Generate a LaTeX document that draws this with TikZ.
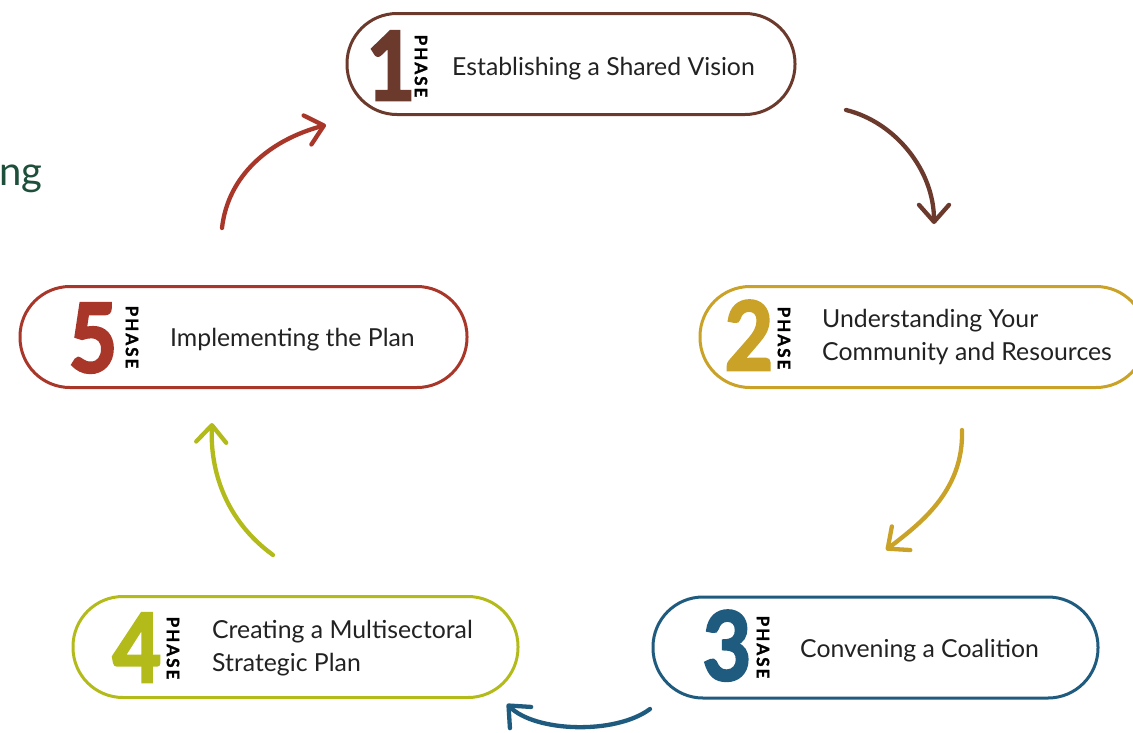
\documentclass[tikz,border=0pt]{standalone}
\usepackage{fontspec}
\setmainfont{Lato}
\newfontfamily\phasefont[LetterSpace=12,BoldFeatures={FakeBold=1.5}]{Lato}
\newfontfamily\digitfont[BoldFeatures={FakeBold=3}]{Lato}
\usetikzlibrary{arrows.meta}
\definecolor{cbrown}{HTML}{6B3A2C}
\definecolor{cgold}{HTML}{C9A227}
\definecolor{cblue}{HTML}{1F5B7E}
\definecolor{clime}{HTML}{B3BB1B}
\definecolor{cred}{HTML}{A8372A}
\definecolor{cgreen}{HTML}{1D4F3B}
\definecolor{ctxt}{HTML}{222222}
\begin{document}
\begin{tikzpicture}[x=1pt,y=-1pt,
  phasebox/.style={draw, line width=3pt, rounded corners=50pt, minimum width=446pt, minimum height=101pt, fill=white, inner sep=0pt},
  digit/.style={font=\digitfont\bfseries\fontsize{95}{95}\selectfont, inner sep=0pt, anchor=base},
  phaselbl/.style={font=\phasefont\bfseries\fontsize{17}{17}\selectfont, rotate=-90, inner sep=0pt, text=black},
  steptext/.style={font=\fontsize{24.8}{33}\selectfont, anchor=base west, align=left, inner sep=0pt, text=ctxt},
  arr/.style={line width=4.3pt, line cap=round, -{Straight Barb[length=17pt,width=30pt,round]}}
]
\useasboundingbox[fill=white] (0,0) rectangle (1133,732);

\node[anchor=base east, text=cgreen, font=\fontsize{40}{40}\selectfont, inner sep=0pt] (title) at (43,185) {ng};

% Phase 1
\node[phasebox, draw=cbrown, minimum width=448pt] (p1) at (571,64) {};
\node[digit, text=cbrown] (d1) at (391,100) {\scalebox{0.88}[1]{1}};
\node[phaselbl] (h1) at (421,66) {PHASE};
\node[steptext] (t1) at (452,75) {Establishing a Shared Vision};

% Phase 2
\node[phasebox, draw=cgold] (p2) at (923,337) {};
\node[digit, text=cgold] (d2) at (749,370) {\scalebox{0.88}[1]{2}};
\node[phaselbl] (h2) at (784,338) {PHASE};
\node[steptext, anchor=west] (t2) at (822,337) {Understanding Your\\Community and Resources};

% Phase 3
\node[phasebox, draw=cblue, minimum width=445pt] (p3) at (875.5,647.5) {};
\node[digit, text=cblue] (d3) at (727,680) {\scalebox{0.88}[1]{3}};
\node[phaselbl] (h3) at (763,647) {PHASE};
\node[steptext] (t3) at (800,657) {Convening a Coalition};

% Phase 4
\node[phasebox, draw=clime, minimum width=445pt] (p4) at (295.5,647) {};
\node[digit, text=clime] (d4) at (137,682) {\scalebox{0.88}[1]{4}};
\node[phaselbl] (h4) at (173,648) {PHASE};
\node[steptext, anchor=west] (t4) at (212,648) {Creating a Multisectoral\\Strategic Plan};

% Phase 5
\node[phasebox, draw=cred, minimum width=447pt] (p5) at (243.5,337) {};
\node[digit, text=cred] (d5) at (93,372) {\scalebox{0.88}[1]{5}};
\node[phaselbl] (h5) at (132,337) {PHASE};
\node[steptext] (t5) at (170,346) {Implementing the Plan};

% arrows
\coordinate (a1s) at (846,110); \coordinate (a1e) at (934,224);
\coordinate (a2s) at (962,430); \coordinate (a2e) at (886,550);
\coordinate (a3s) at (650,709); \coordinate (a3e) at (507,704);
\coordinate (a4s) at (273,555); \coordinate (a4e) at (212,423);
\coordinate (a5s) at (222,228); \coordinate (a5e) at (326,125);

\draw[arr, cbrown] (a1s) .. controls (895,122) and (934,170) .. (a1e);
\draw[arr, cgold] (a2s) .. controls (964,492) and (918,525) .. (a2e);
\draw[arr, cblue] (a3s) .. controls (615,735) and (535,732) .. (a3e);
\draw[arr, clime] (a4s) .. controls (225,520) and (210,470) .. (a4e);
\draw[arr, cred] (a5s) .. controls (228,175) and (270,140) .. (a5e);
\end{tikzpicture}
\end{document}
